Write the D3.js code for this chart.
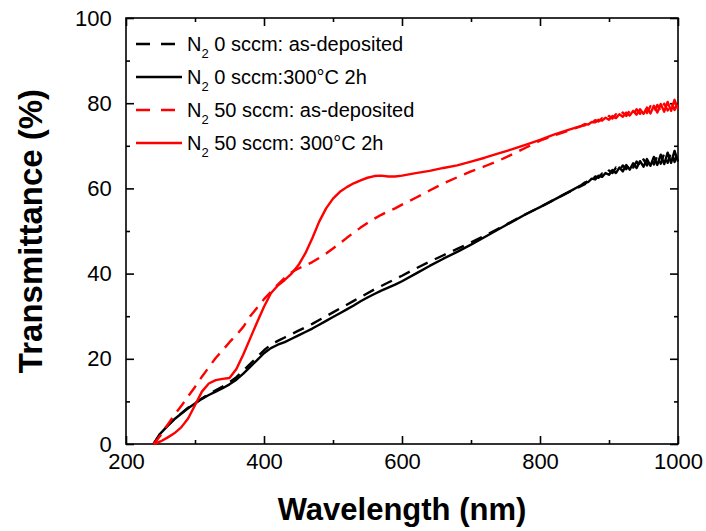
<!DOCTYPE html>
<html>
<head>
<meta charset="UTF-8">
<title>Transmittance</title>
<script src="https://cdn.jsdelivr.net/npm/d3@7"></script>
<style>
  body { margin:0; background:#fff; }
  svg { display:block; }
  .tick text { font-family: "Liberation Sans", Arial, sans-serif; font-size: 22px; fill:#000; }
  .axis path, .axis line { stroke:#000; stroke-width:1.6; }
</style>
</head>
<body>
<svg id="chart" width="706" height="531"></svg>
<script>
// wavelength grid (nm)
const wavelength = [240,250,260,270,280,290,300,310,320,330,340,350,360,370,380,390,400,410,420,430,440,450,460,470,480,490,500,510,520,530,540,550,560,570,580,590,600,
  620,640,660,680,700,720,740,760,780,800,820,840,860,
  865,870,875,880,885,890,895,900,905,910,915,920,925,930,935,940,945,950,955,960,965,970,975,980,985,990,995,1000];

// N2 0 sccm: as-deposited
const n0Dep = [0,2.6,4.3,5.9,7.2,8.5,9.6,10.7,11.7,12.6,13.5,14.5,15.7,17.2,18.8,20.4,22.0,23.3,24.2,25.0,25.8,26.6,27.4,28.2,29.1,30.0,30.9,31.8,32.7,33.6,34.5,35.4,36.3,37.1,37.9,38.7,39.5,
  41.2,42.8,44.3,45.8,47.3,48.9,50.6,52.3,54.0,55.6,57.3,59.0,60.6,
  61.0,62.0,61.8,62.8,62.5,63.5,63.1,64.2,63.6,64.9,64.1,65.4,64.5,65.9,64.9,66.3,65.2,66.8,65.4,67.2,65.6,67.7,65.8,68.2,66.0,68.6,66.2,69.0];
// N2 0 sccm: 300°C 2h
const n0Ann = [0,2.5,4.2,5.8,7.1,8.4,9.5,10.6,11.5,12.3,13.1,14.0,15.1,16.5,18.1,19.7,21.3,22.5,23.3,23.9,24.7,25.5,26.3,27.1,28.0,28.9,29.8,30.7,31.6,32.5,33.5,34.4,35.2,36.0,36.7,37.4,38.2,
  40.0,41.8,43.5,45.1,46.8,48.6,50.4,52.2,54.0,55.6,57.3,59.0,60.8,
  61.4,61.5,62.3,62.1,63.0,62.7,63.6,63.2,64.3,63.6,64.9,64.0,65.5,64.4,65.9,64.8,66.4,65.1,66.9,65.3,67.4,65.5,67.9,65.7,68.4,66.0,68.8,66.3];
// N2 50 sccm: as-deposited
const n50Dep = [0,2.0,4.4,6.8,8.9,11.2,13.4,15.8,18.0,20.2,22.0,23.9,25.6,27.5,30.0,32.0,34.0,35.7,37.4,39.0,40.3,41.2,41.9,42.7,43.7,44.7,45.9,47.1,48.4,49.6,50.8,51.9,52.9,53.8,54.6,55.3,56.2,
  57.8,59.5,61.2,62.6,64.0,65.2,66.5,68.0,69.6,71.2,72.4,73.5,74.6,
  74.8,75.5,75.3,76.0,75.7,76.5,76.0,77.0,76.4,77.4,76.7,77.8,77.0,78.2,77.3,78.6,77.5,79.0,77.7,79.3,77.9,79.6,78.1,79.9,78.3,80.2,78.4,80.5];
// N2 50 sccm: 300°C 2h
const n50Ann = [0,0.6,1.5,2.5,3.9,6.0,9.1,12.3,14.2,15.0,15.3,15.5,17.6,21.0,24.8,28.6,32.2,35.4,37.2,38.5,40.0,42.0,44.8,48.3,52.2,55.3,57.6,59.2,60.3,61.2,61.9,62.5,62.9,63.0,62.8,62.8,63.0,
  63.6,64.1,64.8,65.4,66.3,67.2,68.2,69.2,70.3,71.4,72.6,73.7,74.7,
  75.1,75.0,75.6,75.5,76.1,75.9,76.6,76.1,77.0,76.5,77.4,76.8,77.8,77.1,78.2,77.3,78.6,77.5,79.0,77.6,79.4,77.8,79.8,78.0,80.3,78.2,80.8,78.6];

const seriesNames = ["0 sccm: as-deposited", "0 sccm:300\u00B0C 2h", "50 sccm: as-deposited", "50 sccm: 300\u00B0C 2h"];
const seriesValues = [n0Dep, n0Ann, n50Dep, n50Ann];
const seriesColors = ["#000", "#000", "#ff0000", "#ff0000"];
const seriesDashed = [true, false, true, false];

const xMajor = [200,400,600,800,1000];
const xMinor = [300,500,700,900];
const yMajor = [0,20,40,60,80,100];
const yMinor = [10,30,50,70,90];

const W = 706, H = 531;
const margin = {left:126, right:28, top:18, bottom:87};
const svg = d3.select("#chart");

const x = d3.scaleLinear().domain([200,1000]).range([margin.left, W - margin.right]);
const y = d3.scaleLinear().domain([0,100]).range([H - margin.bottom, margin.top]);

// frame
svg.append("rect")
  .attr("x", x(200)).attr("y", y(100))
  .attr("width", x(1000) - x(200)).attr("height", y(0) - y(100))
  .attr("fill", "none").attr("stroke", "#000").attr("stroke-width", 1.6);

// ticks: major with labels, minor without
function addAxis(gen, pos, major, minor, labels) {
  const g = svg.append("g").attr("class", "axis").attr("transform", pos);
  g.call(gen.tickValues(major).tickSize(-8).tickPadding(labels ? 12 : 0)
    .tickFormat(labels ? d3.format("d") : ""));
  const g2 = svg.append("g").attr("class", "axis").attr("transform", pos);
  g2.call(gen.tickValues(minor).tickSize(-4).tickFormat(""));
  g.select(".domain").remove();
  g2.select(".domain").remove();
  return g;
}
const xb = addAxis(d3.axisBottom(x), `translate(0,${y(0)})`, xMajor, xMinor, true);
addAxis(d3.axisTop(x), `translate(0,${y(100)})`, xMajor, xMinor, false);
const yl = addAxis(d3.axisLeft(y), `translate(${x(200)},0)`, yMajor, yMinor, true);
addAxis(d3.axisRight(y), `translate(${x(1000)},0)`, yMajor, yMinor, false);
xb.selectAll(".tick text").attr("dy", "0.6em");
yl.selectAll(".tick text").attr("dx", "-0.1em");

// curves
const line = d3.line().x((d, i) => x(wavelength[i])).y(d => y(d));
seriesValues.forEach((vals, k) => {
  svg.append("path")
    .attr("d", line(vals))
    .attr("fill", "none")
    .attr("stroke", seriesColors[k])
    .attr("stroke-width", 2.4)
    .attr("stroke-linejoin", "round")
    .attr("stroke-dasharray", seriesDashed[k] ? "12,8" : null);
});

// legend
const legend = svg.append("g");
seriesNames.forEach((name, k) => {
  const ly = 44 + k * 33;
  legend.append("line")
    .attr("x1", 136).attr("x2", 182).attr("y1", ly).attr("y2", ly)
    .attr("stroke", seriesColors[k]).attr("stroke-width", 2.4)
    .attr("stroke-dasharray", seriesDashed[k] ? "14,11" : null);
  const t = legend.append("text")
    .attr("x", 187).attr("y", ly + 7)
    .attr("font-family", "Liberation Sans, Arial, sans-serif")
    .attr("font-size", 20);
  t.append("tspan").text("N");
  t.append("tspan").attr("font-size", 13).attr("dy", 7).text("2");
  t.append("tspan").attr("dy", -7).text(" " + name);
});

// axis titles
svg.append("text")
  .attr("x", (x(200) + x(1000)) / 2).attr("y", 520)
  .attr("text-anchor", "middle")
  .attr("font-family", "Liberation Sans, Arial, sans-serif")
  .attr("font-weight", "bold").attr("font-size", 31)
  .text("Wavelength (nm)");
svg.append("text")
  .attr("transform", `translate(42,${(y(0) + y(100)) / 2}) rotate(-90)`)
  .attr("text-anchor", "middle")
  .attr("font-family", "Liberation Sans, Arial, sans-serif")
  .attr("font-weight", "bold").attr("font-size", 33)
  .text("Transmittance (%)");
</script>
</body>
</html>
